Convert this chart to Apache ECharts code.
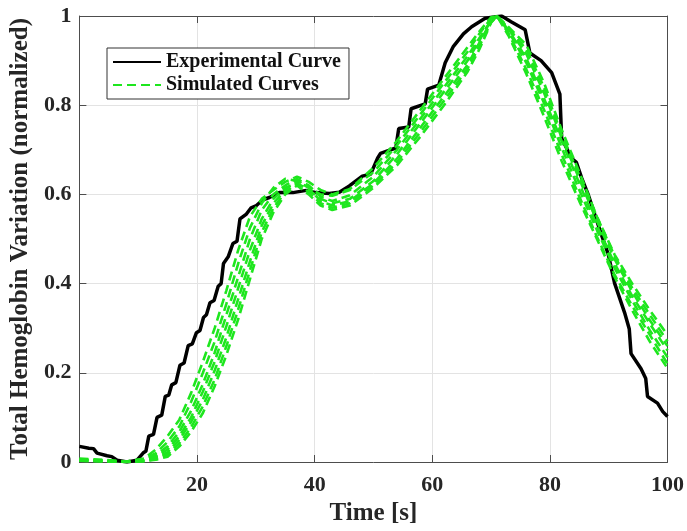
<!DOCTYPE html>
<html>
<head>
<meta charset="utf-8">
<script src="https://cdn.jsdelivr.net/npm/echarts@6/dist/echarts.min.js"></script>
<style>
html, body { margin: 0; padding: 0; background: #fff; }
#main { width: 687px; height: 531px; }
</style>
</head>
<body>
<div id="main"></div>
<script>
// experimental curve (black)
var expTime = [0, 1.6, 2.4, 3, 4.7, 5.5, 6.4, 8.1, 9.8, 10.9, 11.3, 11.8, 12.6, 13.2, 14.0, 14.6, 15.2, 15.7, 16.4, 17.1,
	17.8, 18.5, 19.2, 19.9, 20.5, 21.1, 21.6, 22.2, 22.9, 23.6, 24.1, 24.5, 25.3, 26.1, 26.8, 27.3, 28.4, 29.2, 30.1, 31.2,
	32.3, 34, 36.3, 38.6, 40.2, 42.5, 44.2, 45.9, 48.1, 49.5, 50.7, 51.2, 53.8, 54.3, 56, 56.4, 58.8, 59.2, 61.1, 62.2,
	63.6, 65.3, 66.7, 69, 71.8, 73.4, 75.8, 76.6, 78.5, 80.3, 81.7, 82, 83.7, 84.5, 85.4, 86.5, 87.6, 88.7, 89.9, 91,
	92.7, 93.5, 93.8, 95.5, 96.3, 96.6, 98.3, 99.2, 100];
var expValue = [0.035, 0.031, 0.03, 0.02, 0.014, 0.012, 0.004, 0.0, 0.004, 0.021, 0.024, 0.058, 0.062, 0.10, 0.105, 0.147, 0.15, 0.173, 0.178, 0.217,
	0.222, 0.261, 0.265, 0.29, 0.295, 0.324, 0.33, 0.357, 0.362, 0.394, 0.40, 0.445, 0.46, 0.49, 0.495, 0.545, 0.556, 0.57, 0.575, 0.588,
	0.593, 0.604, 0.604, 0.609, 0.604, 0.602, 0.605, 0.619, 0.641, 0.645, 0.681, 0.692, 0.704, 0.748, 0.751, 0.792, 0.803, 0.836, 0.845, 0.895,
	0.932, 0.96, 0.976, 0.995, 1.0, 0.987, 0.969, 0.917, 0.9, 0.873, 0.825, 0.726, 0.681, 0.672, 0.637, 0.6, 0.556, 0.512, 0.467, 0.401,
	0.335, 0.298, 0.243, 0.209, 0.187, 0.147, 0.132, 0.113, 0.102];

// simulated curves (green dashed), shared time grid
var simTime = [0, 4, 8, 11, 13, 15, 17, 19, 21, 23, 25, 27, 29, 31, 33, 35, 37, 39, 41, 43, 46, 50, 54, 58, 62, 66, 68, 70, 71, 73, 76, 79, 82, 85, 88, 91, 94, 97, 100];
var sim1 = [0.008, 0.005, 0.001, 0.008, 0.028, 0.058, 0.095, 0.155, 0.225, 0.3, 0.385, 0.475, 0.55, 0.59, 0.61, 0.628, 0.64, 0.628, 0.61, 0.6, 0.612, 0.66, 0.72, 0.79, 0.86, 0.93, 0.965, 0.997, 1.0, 0.955, 0.87, 0.775, 0.675, 0.585, 0.5, 0.415, 0.34, 0.27, 0.21];
var sim2 = [0.006, 0.004, 0.001, 0.006, 0.02, 0.045, 0.08, 0.135, 0.2, 0.27, 0.355, 0.445, 0.525, 0.58, 0.615, 0.635, 0.63, 0.615, 0.6, 0.597, 0.61, 0.65, 0.71, 0.78, 0.85, 0.92, 0.96, 0.995, 1.0, 0.96, 0.88, 0.79, 0.69, 0.595, 0.505, 0.42, 0.35, 0.285, 0.22];
var sim3 = [0.005, 0.003, 0.0, 0.005, 0.015, 0.035, 0.068, 0.115, 0.175, 0.245, 0.33, 0.415, 0.5, 0.565, 0.6, 0.62, 0.635, 0.62, 0.595, 0.585, 0.598, 0.64, 0.7, 0.77, 0.84, 0.91, 0.95, 0.99, 1.0, 0.965, 0.895, 0.805, 0.705, 0.61, 0.52, 0.435, 0.362, 0.295, 0.235];
var sim4 = [0.004, 0.003, 0.0, 0.004, 0.012, 0.028, 0.058, 0.1, 0.158, 0.225, 0.305, 0.39, 0.475, 0.545, 0.59, 0.615, 0.625, 0.61, 0.59, 0.58, 0.59, 0.63, 0.69, 0.76, 0.83, 0.9, 0.945, 0.99, 1.0, 0.968, 0.905, 0.815, 0.72, 0.625, 0.53, 0.445, 0.372, 0.31, 0.25];
var sim5 = [0.004, 0.002, 0.0, 0.003, 0.009, 0.022, 0.05, 0.09, 0.14, 0.205, 0.28, 0.365, 0.45, 0.53, 0.58, 0.61, 0.632, 0.615, 0.585, 0.575, 0.585, 0.625, 0.68, 0.75, 0.82, 0.89, 0.94, 0.988, 1.0, 0.97, 0.915, 0.828, 0.728, 0.635, 0.54, 0.455, 0.382, 0.318, 0.26];
var sim6 = [0.003, 0.002, 0.0, 0.002, 0.007, 0.017, 0.042, 0.078, 0.125, 0.185, 0.26, 0.342, 0.43, 0.515, 0.57, 0.605, 0.625, 0.605, 0.58, 0.57, 0.58, 0.62, 0.672, 0.74, 0.81, 0.882, 0.932, 0.986, 1.0, 0.972, 0.925, 0.84, 0.735, 0.643, 0.55, 0.462, 0.39, 0.33, 0.27];
var sim7 = [0.003, 0.002, 0.0, 0.002, 0.005, 0.012, 0.035, 0.068, 0.11, 0.17, 0.24, 0.32, 0.41, 0.5, 0.56, 0.6, 0.62, 0.6, 0.575, 0.565, 0.575, 0.615, 0.665, 0.73, 0.8, 0.875, 0.925, 0.985, 1.0, 0.975, 0.935, 0.85, 0.745, 0.65, 0.55, 0.465, 0.4, 0.34, 0.285];

var font = '"Liberation Serif", "Times New Roman", serif';
var green = '#1ee61e';

var pairs = function (xs, ys) {
	return xs.map(function (x, i) { return [x, ys[i]]; });
};

var series = [{
	name: 'Experimental Curve',
	type: 'line',
	data: pairs(expTime, expValue),
	showSymbol: false,
	symbol: 'none',
	z: 2,
	lineStyle: { color: '#000', width: 3.5 },
	itemStyle: { color: '#000' }
}];

[sim1, sim2, sim3, sim4, sim5, sim6, sim7].forEach(function (sim) {
	series.push({
		name: 'Simulated Curves',
		type: 'line',
		data: pairs(simTime, sim),
		showSymbol: false,
		symbol: 'none',
		z: 3,
		lineStyle: { color: green, width: 2.6, type: [9, 5] },
		itemStyle: { color: green }
	});
});

var axisColor = '#4d4d4d';
var boxAxis = function (pos, type) {
	return {
		type: 'value',
		position: pos,
		min: 0,
		max: type === 'x' ? 100 : 1,
		interval: type === 'x' ? 20 : 0.2,
		axisLine: { show: true, onZero: false, lineStyle: { color: axisColor, width: 1 } },
		axisTick: { show: true, inside: true, length: 7, lineStyle: { color: axisColor } },
		axisLabel: { show: false },
		splitLine: { show: false }
	};
};

var option = {
	animation: false,
	backgroundColor: '#fff',
	grid: { left: 78, right: 17, top: 16, bottom: 63, containLabel: false },
	legend: {
		data: ['Experimental Curve', 'Simulated Curves'],
		orient: 'vertical',
		left: 107,
		top: 48,
		itemWidth: 48,
		itemHeight: 14,
		itemGap: 3,
		padding: [4, 8, 4, 5],
		borderColor: '#333',
		borderWidth: 1,
		backgroundColor: '#fff',
		itemStyle: { opacity: 0 },
		textStyle: { fontFamily: font, fontWeight: 'bold', fontSize: 20, color: '#111' }
	},
	xAxis: [{
		type: 'value',
		min: 0,
		max: 100,
		interval: 20,
		name: 'Time [s]',
		nameLocation: 'middle',
		nameGap: 39,
		nameTextStyle: { fontFamily: font, fontWeight: 'bold', fontSize: 25, color: '#262626' },
		axisLine: { show: true, onZero: false, lineStyle: { color: axisColor, width: 1 } },
		axisTick: { show: true, inside: true, length: 7, lineStyle: { color: axisColor } },
		axisLabel: {
			margin: 12,
			fontFamily: font, fontWeight: 'bold', fontSize: 22, color: '#262626',
			formatter: function (v) { return v === 0 ? '' : String(v); }
		},
		splitLine: { show: true, lineStyle: { color: '#e3e3e3', width: 1 } }
	}, boxAxis('top', 'x')],
	yAxis: [{
		type: 'value',
		min: 0,
		max: 1,
		interval: 0.2,
		name: 'Total Hemoglobin Variation (normalized)',
		nameLocation: 'middle',
		nameGap: 40,
		nameTextStyle: { fontFamily: font, fontWeight: 'bold', fontSize: 25, color: '#262626', verticalAlign: 'bottom' },
		axisLine: { show: true, onZero: false, lineStyle: { color: axisColor, width: 1 } },
		axisTick: { show: true, inside: true, length: 7, lineStyle: { color: axisColor } },
		axisLabel: {
			margin: 8,
			fontFamily: font, fontWeight: 'bold', fontSize: 22, color: '#262626',
			formatter: function (v) { return String(Math.round(v * 10) / 10); }
		},
		splitLine: { show: true, lineStyle: { color: '#e3e3e3', width: 1 } }
	}, boxAxis('right', 'y')],
	series: series
};

var chart = echarts.init(document.getElementById('main'));
chart.setOption(option);
</script>
</body>
</html>
